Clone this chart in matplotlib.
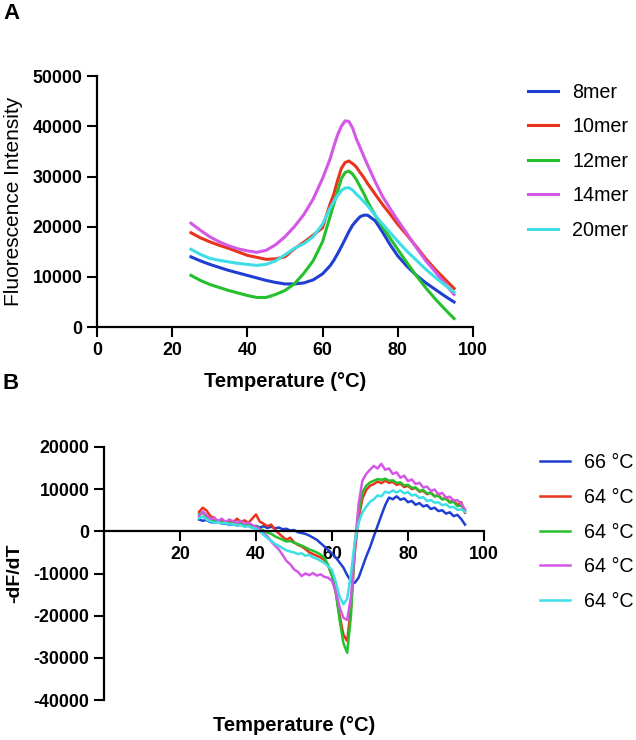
import numpy as np
import matplotlib
matplotlib.use("Agg")
import matplotlib.pyplot as plt

plt.rcParams['font.family'] = ['Liberation Sans', 'DejaVu Sans']
plt.rcParams['axes.unicode_minus'] = False

# ---- panel A: melt curves (values in thousands) ----
temp_a = [25, 27.5, 30, 32.5, 35, 37.5, 40, 42.5, 45, 47.5, 50, 52.5, 55, 57.5, 60,
          62, 63, 64, 65, 66, 67, 68, 69, 70, 71, 72, 74, 76, 78, 80,
          82.5, 85, 87.5, 90, 92.5, 95]
mer8 = [14.0, 13.2, 12.5, 11.9, 11.3, 10.8, 10.3, 9.8, 9.3, 8.9, 8.6, 8.6, 8.8, 9.4, 10.6,
        12.2, 13.3, 14.6, 16.0, 17.5, 19.0, 20.3, 21.2, 22.0, 22.3, 22.3, 21.2, 18.9, 16.4, 14.2,
        12.1, 10.3, 8.8, 7.5, 6.2, 5.0]
mer10 = [18.8, 17.8, 17.0, 16.3, 15.7, 15.0, 14.3, 13.9, 13.5, 13.6, 14.0, 15.6, 16.9, 18.3, 19.8,
         24.5, 26.5, 29.2, 31.6, 32.8, 33.1, 32.6, 31.9, 30.8, 29.8, 28.6, 26.5, 24.4, 22.5, 20.5,
         18.3, 16.0, 13.6, 11.5, 9.6, 7.7]
mer12 = [10.3, 9.3, 8.5, 7.9, 7.3, 6.8, 6.3, 5.9, 5.9, 6.5, 7.3, 8.6, 10.7, 13.2, 17.0,
         22.0, 24.5, 27.0, 29.6, 30.8, 31.1, 30.5, 29.4, 28.0, 26.6, 25.0, 22.3, 19.9, 17.7, 15.5,
         12.8, 10.2, 7.8, 5.6, 3.6, 1.7]
mer14 = [20.7, 19.3, 18.0, 17.0, 16.2, 15.6, 15.2, 14.9, 15.3, 16.4, 18.0, 20.0, 22.4, 25.5, 29.6,
         33.5, 36.0, 38.3, 40.0, 41.1, 41.0, 39.7, 37.5, 35.8, 34.0, 32.3, 29.0, 26.0, 23.6, 21.3,
         18.6, 15.8, 13.2, 11.0, 8.7, 6.5]
mer20 = [15.5, 14.5, 13.7, 13.3, 13.0, 12.7, 12.5, 12.3, 12.5, 13.2, 14.4, 15.7, 16.6, 18.0, 20.5,
         23.7, 25.0, 26.2, 27.2, 27.7, 27.8, 27.3, 26.5, 25.8, 25.0, 24.2, 22.3, 20.5, 18.8, 17.1,
         15.1, 13.3, 11.5, 9.9, 8.4, 7.0]
labels_a = ['8mer', '10mer', '12mer', '14mer', '20mer']

# ---- panel B: -dF/dT (values in thousands), 25..95 C in 1 C steps ----
temp_b = list(range(25, 96))
d_blue = [2.8, 2.5, 2.7, 2.2, 2.0, 2.3, 1.8, 1.9, 1.5, 1.7, 1.4, 1.6, 1.2, 1.4, 1.1, 1.3,
          0.9, 1.2, 0.8, 1.1, 0.7, 0.9, 0.5, 0.6, 0.2, 0.3, -0.2, -0.4, -0.6, -1.0, -1.5,
          -2.0, -2.8, -3.6, -4.4, -5.3, -6.2, -7.4, -8.6, -10.4, -11.8, -12.2, -11.0, -8.5,
          -6.0, -3.8, -1.2, 1.3, 3.8, 6.2, 8.0, 7.6, 8.3, 7.5, 7.8, 6.9, 7.2, 6.3, 6.7, 5.9,
          6.2, 5.3, 5.6, 4.8, 5.0, 4.2, 4.5, 3.6, 3.9, 2.9, 1.6]
d_red = [4.6, 5.6, 4.9, 3.6, 3.2, 2.2, 2.8, 2.0, 2.6, 2.1, 3.0, 2.2, 2.6, 2.0, 3.0, 4.0,
         2.3, 1.8, 1.2, 1.6, 0.4, -0.5, -1.3, -2.0, -1.5, -2.6, -3.2, -3.6, -4.2, -5.0, -5.4,
         -5.8, -6.2, -6.8, -8.2, -10.5, -14.5, -20.0, -24.5, -26.0, -18.0, -5.0, 3.0, 7.8,
         9.8, 10.8, 11.2, 11.8, 11.4, 12.0, 11.5, 11.7, 11.0, 11.3, 10.5, 10.8, 10.0, 10.3,
         9.4, 9.6, 8.8, 9.2, 8.3, 8.6, 7.6, 8.0, 6.9, 7.4, 6.2, 6.9, 4.4]
d_green = [4.0, 4.4, 3.4, 3.0, 2.4, 2.6, 2.0, 2.3, 1.8, 2.0, 1.6, 1.8, 1.4, 1.6, 1.1, 1.2,
           0.6, 0.2, -0.3, -0.6, -1.2, -1.6, -2.0, -2.4, -2.3, -2.7, -3.0, -3.4, -3.8, -4.3,
           -4.6, -5.0, -5.5, -6.3, -8.0, -10.5, -14.5, -21.0, -26.5, -28.8, -20.0, -3.0, 4.5,
           9.2, 10.8, 11.6, 12.0, 12.4, 12.2, 12.5, 12.0, 12.1, 11.5, 11.6, 10.9, 11.0, 10.3,
           10.4, 9.6, 9.8, 9.0, 9.1, 8.3, 8.4, 7.6, 7.7, 6.8, 7.0, 6.0, 6.1, 5.0]
d_magenta = [3.5, 4.7, 3.8, 2.8, 3.3, 2.4, 3.0, 2.2, 2.8, 2.4, 2.0, 2.5, 1.8, 2.1, 1.5, 1.0,
             0.5, -0.4, -1.2, -2.4, -3.4, -4.3, -5.6, -7.0, -7.8, -9.0, -9.6, -10.6, -10.0,
             -10.4, -9.9, -10.5, -10.2, -10.8, -11.0, -11.8, -14.2, -18.0, -20.5, -21.0, -15.5,
             -4.0, 6.5, 12.0, 13.6, 14.6, 15.5, 14.9, 16.0, 14.6, 14.9, 13.6, 14.0, 12.7, 13.2,
             11.9, 12.3, 11.2, 11.5, 10.4, 10.6, 9.6, 9.9, 8.8, 9.1, 8.0, 8.2, 7.3, 7.4, 6.5, 5.2]
d_cyan = [3.1, 3.5, 2.8, 2.4, 2.0, 2.2, 1.8, 2.0, 1.6, 1.7, 1.4, 1.5, 1.1, 1.2, 0.8, 0.6,
          0.0, -0.8, -1.6, -2.2, -3.0, -3.4, -4.0, -4.5, -4.8, -5.0, -5.4, -5.2, -5.8, -5.6,
          -6.2, -6.5, -7.0, -7.5, -8.3, -9.2, -12.0, -15.5, -17.3, -16.0, -10.0, -2.5, 2.0,
          4.5, 5.8, 7.0, 7.6, 8.5, 8.3, 9.4, 9.1, 9.7, 9.2, 9.7, 9.0, 9.3, 8.5, 8.7, 7.9, 8.1,
          7.2, 7.4, 6.8, 6.9, 6.2, 6.4, 5.7, 5.8, 5.1, 5.2, 4.6]
labels_b = ['66 °C', '64 °C', '64 °C', '64 °C', '64 °C']

colors = ['#1f3fd2', '#e8341c', '#26c02e', '#d458e6', '#3fdde6']

fig = plt.figure(figsize=(6.36, 7.40), dpi=100)


def style_axes(ax):
    for s in ['top', 'right']:
        ax.spines[s].set_visible(False)
    for s in ['left', 'bottom']:
        ax.spines[s].set_linewidth(1.6)
    ax.tick_params(width=1.5, length=7, direction='out', labelsize=12.8)
    for lab in ax.get_xticklabels() + ax.get_yticklabels():
        lab.set_fontweight('bold')


# Panel A
axA = fig.add_axes([0.1525, 0.558, 0.591, 0.339])
series_a = [mer8, mer10, mer12, mer14, mer20]
for vals, c, lab in zip(series_a, colors, labels_a):
    axA.plot(temp_a, np.array(vals) * 1000, color=c, lw=2.2, label=lab)
axA.set_xlim(0, 100)
axA.set_ylim(0, 50000)
axA.set_xticks([0, 20, 40, 60, 80, 100])
axA.set_yticks([0, 10000, 20000, 30000, 40000, 50000])
style_axes(axA)
axA.set_xlabel('Temperature (°C)', fontsize=14.5, fontweight='bold')
axA.xaxis.set_label_coords(0.5, -0.178)
axA.set_ylabel('Fluorescence Intensity', fontsize=15)
axA.yaxis.set_label_coords(-0.197, 0.5)
axA.legend(loc='upper left', bbox_to_anchor=(528 / 636, 1 - 83 / 740),
           bbox_transform=fig.transFigure, frameon=False, fontsize=14.2,
           handlelength=1.5, handletextpad=0.75, labelspacing=0.78, borderpad=0,
           borderaxespad=0)

# Panel B
axB = fig.add_axes([0.1635, 0.054, 0.5975, 0.342])
series_b = [d_blue, d_red, d_green, d_magenta, d_cyan]
for vals, c, lab in zip(series_b, colors, labels_b):
    axB.plot(temp_b, np.array(vals) * 1000, color=c, lw=1.8, label=lab)
axB.set_xlim(0, 100)
axB.set_ylim(-40000, 20000)
axB.spines['bottom'].set_position(('data', 0))
axB.set_xticks([20, 40, 60, 80, 100])
axB.set_yticks([-40000, -30000, -20000, -10000, 0, 10000, 20000])
style_axes(axB)
axB.set_xlabel('Temperature (°C)', fontsize=14.5, fontweight='bold')
axB.xaxis.set_label_coords(0.5, -0.062)
axB.set_ylabel('-dF/dT', fontsize=14, fontweight='bold')
axB.yaxis.set_label_coords(-0.213, 0.5)
axB.legend(loc='upper left', bbox_to_anchor=(540 / 636, 1 - 453 / 740),
           bbox_transform=fig.transFigure, frameon=False, fontsize=14.2,
           handlelength=1.5, handletextpad=0.75, labelspacing=0.8, borderpad=0,
           borderaxespad=0)

fig.text(3 / 636, 1 - 3 / 740, 'A', fontsize=16, fontweight='bold', va='top', ha='left')
fig.text(3 / 636, 1 - 373 / 740, 'B', fontsize=16, fontweight='bold', va='top', ha='left')

fig.savefig('out.png', dpi=100)
